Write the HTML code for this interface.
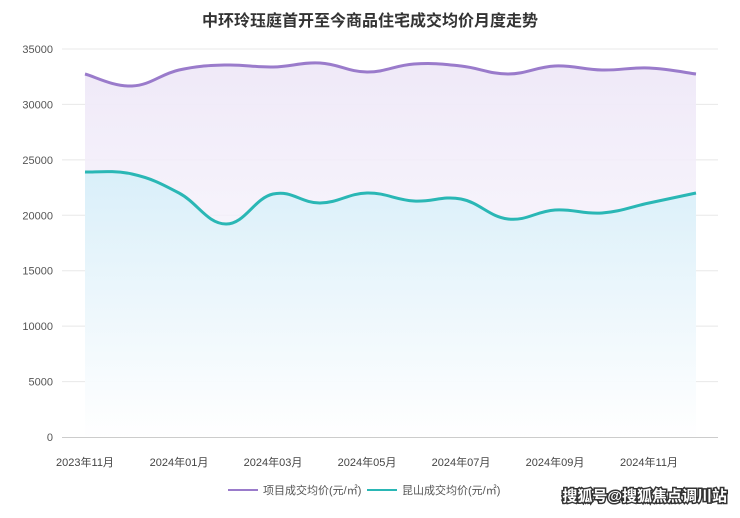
<!DOCTYPE html>
<html><head><meta charset="utf-8"><style>
body{margin:0;background:#fff;width:740px;height:513px;overflow:hidden;font-family:"Liberation Sans","Noto Sans CJK SC",sans-serif}
</style></head><body>
<svg id="s" width="740" height="513" xmlns="http://www.w3.org/2000/svg" style="font-family:'Liberation Sans','Noto Sans CJK SC',sans-serif">
<defs>
<linearGradient id="gp" x1="0" y1="0" x2="0" y2="1"><stop offset="0" stop-color="#efe9f8"/><stop offset="1" stop-color="#fbf9fd" stop-opacity="0.5"/></linearGradient>
<linearGradient id="gt" x1="0" y1="0" x2="0" y2="1"><stop offset="0" stop-color="#d9eff9"/><stop offset="1" stop-color="#ffffff" stop-opacity="0.9"/></linearGradient>
</defs>
<rect width="740" height="513" fill="#fff"/>
<text x="370" y="26" text-anchor="middle" font-size="16" font-weight="bold" fill="#333">中环玲珏庭首开至今商品住宅成交均价月度走势</text>
<g id="grid" stroke="#e8e8e8" stroke-width="1"></g>
<g id="yl" font-size="11" fill="#555" text-anchor="end"></g>
<path id="pa" fill="url(#gp)"/>
<path id="ta" fill="url(#gt)"/>
<path id="pl" fill="none" stroke="#9a7bcb" stroke-width="3"/>
<path id="tl" fill="none" stroke="#2ab7b5" stroke-width="3"/>
<line x1="62" y1="437.5" x2="718" y2="437.5" stroke="#ccc"/>
<g font-size="11" fill="#444" text-anchor="middle">
<text x="85" y="466">2023年11月</text><text x="179" y="466">2024年01月</text><text x="273" y="466">2024年03月</text><text x="367" y="466">2024年05月</text><text x="461" y="466">2024年07月</text><text x="555" y="466">2024年09月</text><text x="649" y="466">2024年11月</text>
</g>
<line x1="228" y1="490" x2="258" y2="490" stroke="#9a7bcb" stroke-width="2"/>
<text x="263" y="494" font-size="11" fill="#555">项目成交均价(元/㎡)</text>
<line x1="367" y1="490" x2="397" y2="490" stroke="#2ab7b5" stroke-width="2"/>
<text x="402" y="494" font-size="11" fill="#555">昆山成交均价(元/㎡)</text>
<text x="727" y="501" text-anchor="end" font-size="15" font-weight="bold" fill="#fff" stroke="#333" stroke-width="3" paint-order="stroke">搜狐号@搜狐焦点调川站</text>
</svg>
<script>
var g=document.getElementById('grid'),yl=document.getElementById('yl'),ns='http://www.w3.org/2000/svg';
for(var i=0;i<=7;i++){var y=437-i*55.43;if(i>0){var l=document.createElementNS(ns,'line');l.setAttribute('x1',62);l.setAttribute('x2',718);l.setAttribute('y1',y);l.setAttribute('y2',y);g.appendChild(l);}
var t=document.createElementNS(ns,'text');t.setAttribute('x',53);t.setAttribute('y',y+4);t.textContent=i*5000;yl.appendChild(t);}
var P=[74,86,70,65,67,63,72,64,66,74,66,70,68,74],T=[172,174,193,224,194,203,193,201,199,219,210,213,203,193];
function pts(a){return a.map(function(y,i){return [85+47*i,y]});}
function curve(p){var d='M'+p[0][0]+','+p[0][1];for(var i=0;i<p.length-1;i++){var p0=p[i-1]||p[i],p1=p[i],p2=p[i+1],p3=p[i+2]||p2;var k=0.2;
d+=' C'+(p1[0]+(p2[0]-p0[0])*k)+','+(p1[1]+(p2[1]-p0[1])*k)+' '+(p2[0]-(p3[0]-p1[0])*k)+','+(p2[1]-(p3[1]-p1[1])*k)+' '+p2[0]+','+p2[1];}return d;}
var pp=pts(P),tp=pts(T),pd=curve(pp),td=curve(tp);
document.getElementById('pl').setAttribute('d',pd);document.getElementById('tl').setAttribute('d',td);
document.getElementById('pa').setAttribute('d',pd+' L696,437 L85,437 Z');
document.getElementById('ta').setAttribute('d',td+' L696,437 L85,437 Z');
</script>
</body></html>
